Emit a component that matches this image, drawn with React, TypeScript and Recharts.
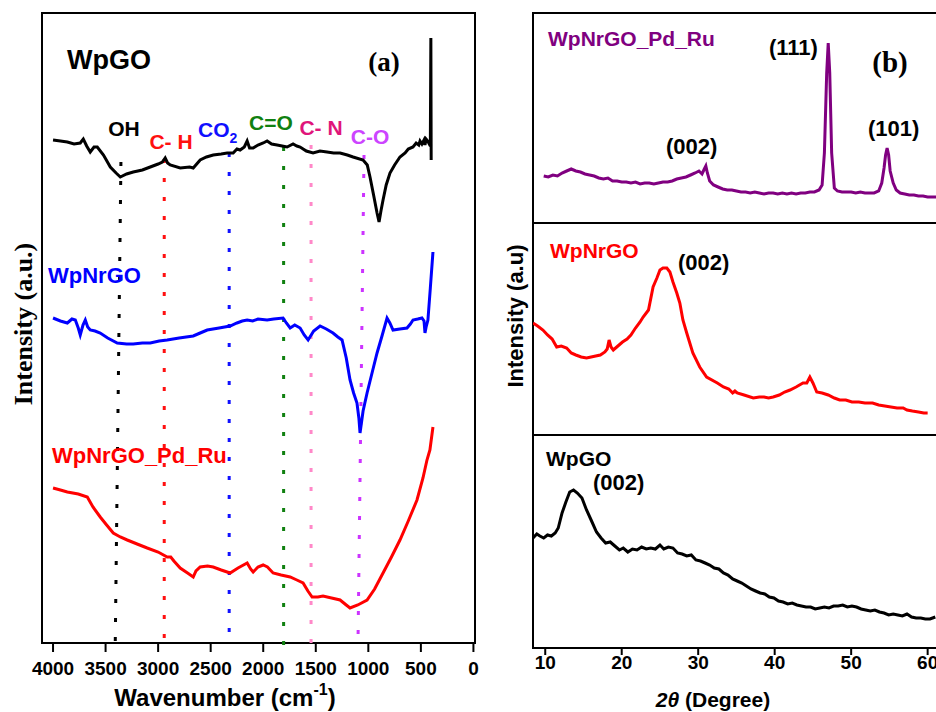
import React from 'react';
import { LineChart, Line, XAxis, YAxis, ReferenceArea, ReferenceLine } from 'recharts';

const SANS = '"Liberation Sans", Arial, sans-serif';
const SERIF = '"Liberation Serif", "Times New Roman", serif';

// ---- (a) FTIR ----
const ftirTicks = [0, 500, 1000, 1500, 2000, 2500, 3000, 3500, 4000];

const wpgoWave = [4000, 3930, 3864, 3800, 3741, 3712, 3680, 3646, 3610, 3579, 3520, 3455, 3400, 3360, 3300, 3237, 3150, 3075, 3000, 2960, 2933, 2910, 2885, 2790, 2700, 2666, 2600, 2540, 2476, 2400, 2343, 2286, 2250, 2220, 2180, 2153, 2130, 2096, 2050, 2000, 1963, 1920, 1868, 1820, 1773, 1716, 1680, 1649, 1590, 1526, 1460, 1393, 1330, 1269, 1200, 1145, 1050, 1010, 984, 950, 917, 898, 880, 860, 830, 794, 750, 699, 650, 620, 575, 545, 520, 508, 490, 470, 461, 450, 442, 425, 410, 405, 402];
const wpgoInt = [503, 502, 501, 499, 500, 504, 497, 491, 496, 496, 488, 476, 470, 466, 469, 471, 473, 476, 479, 481, 485, 480, 478, 475, 476, 475, 483, 486, 488, 489, 490, 490, 494, 493, 496, 502, 495, 495, 498, 500, 502, 499, 498, 497, 496, 499, 497, 496, 492, 490, 492, 491, 490, 490, 488, 486, 483, 478, 466, 448, 430, 421, 432, 443, 458, 470, 478, 486, 490, 494, 496, 500, 498, 502, 499, 503, 498, 504, 503, 500, 497, 605, 483];

const wpnrgoWave = [4000, 3930, 3864, 3820, 3788, 3760, 3741, 3715, 3693, 3670, 3646, 3600, 3551, 3480, 3389, 3300, 3237, 3150, 3075, 2990, 2914, 2800, 2666, 2600, 2533, 2420, 2315, 2250, 2200, 2153, 2100, 2050, 1963, 1900, 1811, 1780, 1744, 1700, 1649, 1610, 1573, 1520, 1459, 1400, 1336, 1290, 1250, 1210, 1174, 1140, 1108, 1090, 1079, 1050, 1012, 960, 917, 870, 822, 795, 765, 700, 632, 600, 575, 530, 490, 470, 461, 450, 433, 410, 385];
const wpnrgoInt = [325, 322, 320, 324, 323, 315, 308, 318, 323, 316, 313, 312, 310, 305, 300, 299, 299, 300, 300, 302, 303, 305, 307, 310, 313, 315, 317, 320, 322, 323, 322, 324, 323, 324, 325, 320, 315, 318, 315, 308, 303, 312, 317, 314, 310, 306, 303, 285, 263, 250, 240, 225, 210, 232, 250, 272, 290, 307, 325, 320, 313, 314, 315, 319, 323, 324, 325, 322, 310, 316, 323, 355, 391];

const pdRuWave = [4000, 3930, 3864, 3760, 3674, 3620, 3551, 3490, 3427, 3360, 3294, 3200, 3104, 3000, 2914, 2880, 2850, 2790, 2720, 2666, 2640, 2600, 2530, 2476, 2400, 2315, 2240, 2153, 2120, 2096, 2050, 2001, 1960, 1906, 1830, 1744, 1680, 1621, 1575, 1535, 1480, 1431, 1350, 1269, 1210, 1174, 1100, 1012, 940, 860, 780, 699, 620, 537, 480, 442, 414, 385];
const pdRuInt = [155, 153, 151, 149, 146, 136, 126, 118, 110, 106, 103, 99, 95, 91, 86, 86, 82, 75, 70, 66, 72, 76, 77, 76, 73, 70, 75, 80, 74, 71, 76, 78, 76, 70, 68, 66, 63, 60, 52, 46, 46, 47, 45, 43, 38, 35, 38, 43, 54, 70, 86, 103, 122, 143, 165, 183, 193, 216];

// band markers: wavenumber at top / bottom of the dotted line, intensity extent
const bandWaveTop = [3354, 2942, 2324, 1806, 1545, 1041];
const bandWaveBottom = [3408, 2942, 2324, 1806, 1545, 1098];
const bandIntTop = [481, 484, 490, 496, 498, 488];
const bandIntBottom = [0, 0, 11, -4, -4, 3];
const bandColors = ['#000000', '#ff1010', '#1010ff', '#108010', '#ff88c8', '#cc33ff'];

// ---- (b) XRD ----
const xrdTicks = [10, 20, 30, 40, 50, 60];

const pdRuTheta = [9.8, 10.4, 11.0, 11.6, 12.2, 12.8, 13.4, 14.0, 14.6, 15.2, 15.8, 16.4, 17.0, 17.6, 18.2, 18.8, 19.4, 20.0, 20.6, 21.2, 21.8, 22.4, 23.0, 23.6, 24.2, 24.8, 25.4, 26.0, 26.6, 27.2, 27.8, 28.4, 29.0, 29.6, 30.1, 30.5, 30.8, 31.0, 31.2, 31.5, 32.0, 32.6, 33.2, 33.8, 34.4, 35.0, 35.6, 36.2, 36.8, 37.4, 38.0, 38.6, 39.2, 39.8, 40.4, 41.0, 41.6, 42.2, 42.8, 43.4, 44.0, 44.6, 45.2, 45.8, 46.2, 46.5, 46.8, 47.0, 47.2, 47.45, 47.8, 48.2, 48.8, 49.4, 50.0, 50.6, 51.2, 51.8, 52.4, 53.0, 53.6, 54.0, 54.3, 54.5, 54.7, 54.9, 55.1, 55.5, 55.9, 56.4, 57.0, 57.6, 58.2, 58.8, 59.4, 60.0, 60.6, 61.2, 62.0];
const pdRuCounts = [47, 46, 48, 47, 50, 52, 54, 52, 51, 49, 48, 47, 45, 44, 45, 42, 42, 41, 41, 40, 41, 39, 40, 40, 39, 40, 41, 41, 42, 44, 45, 46, 48, 50, 52, 49, 54, 57, 50, 42, 38, 36, 34, 33, 33, 32, 31, 31, 30, 31, 30, 29, 30, 30, 29, 30, 29, 30, 29, 30, 30, 31, 31, 33, 38, 70, 150, 180, 150, 70, 35, 32, 31, 31, 31, 30, 31, 30, 30, 30, 32, 40, 55, 68, 75, 68, 52, 40, 33, 30, 29, 28, 28, 27, 27, 26, 26, 26, 26];

const nrgoTheta = [8.4, 9.0, 9.7, 10.3, 10.9, 11.5, 12.1, 12.8, 13.4, 14.0, 14.7, 15.4, 16.0, 16.6, 17.2, 17.8, 18.1, 18.35, 18.6, 18.9, 19.5, 20.1, 20.7, 21.2, 21.8, 22.4, 22.8, 23.5, 24.1, 24.6, 25.0, 25.4, 25.9, 26.3, 26.7, 27.2, 27.6, 28.0, 28.5, 28.9, 29.3, 30.2, 31.1, 32.5, 33.3, 34.0, 34.5, 34.8, 35.1, 36.0, 37.2, 38.0, 38.6, 39.2, 39.8, 40.6, 41.3, 42.0, 42.8, 43.7, 44.2, 44.6, 45.0, 45.5, 46.2, 47.0, 47.8, 48.5, 49.3, 50.1, 51.0, 51.8, 52.8, 53.6, 54.4, 55.2, 56.0, 56.8, 57.3, 58.0, 58.8, 59.5, 60.0];
const nrgoCounts = [112, 109, 105, 100, 96, 88, 89, 87, 82, 80, 78, 77, 78, 79, 80, 83, 86, 95, 88, 85, 89, 93, 96, 100, 107, 113, 118, 125, 148, 157, 165, 167, 167, 163, 153, 142, 132, 115, 102, 92, 82, 68, 58, 52, 48, 46, 42, 44, 42, 40, 37, 38, 38, 37, 38, 40, 43, 45, 48, 52, 52, 58, 52, 43, 42, 40, 37, 35, 35, 33, 33, 32, 32, 30, 29, 28, 27, 27, 25, 24, 23, 22, 22];

const goTheta = [8.4, 8.9, 9.3, 9.8, 10.3, 10.8, 11.3, 11.7, 12.2, 12.7, 13.2, 13.7, 14.2, 14.8, 15.4, 16.0, 16.7, 17.3, 17.9, 18.5, 19.1, 19.7, 20.2, 20.8, 21.4, 22.0, 22.6, 23.2, 23.8, 24.4, 25.0, 25.5, 26.1, 26.7, 27.3, 27.9, 28.5, 29.1, 29.7, 30.3, 30.9, 31.5, 32.1, 32.7, 33.3, 33.9, 34.5, 35.1, 35.7, 36.3, 36.9, 37.5, 38.1, 38.7, 39.3, 39.9, 40.5, 41.1, 41.7, 42.3, 42.9, 43.5, 44.1, 44.7, 45.3, 45.9, 46.5, 47.1, 47.7, 48.3, 48.9, 49.5, 50.1, 50.7, 51.3, 51.9, 52.5, 53.1, 53.7, 54.3, 54.9, 55.5, 56.1, 56.7, 57.3, 57.9, 58.5, 59.1, 59.7, 60.3, 61.0];
const goCounts = [110, 114, 112, 110, 113, 112, 115, 120, 135, 146, 156, 158, 155, 150, 138, 128, 116, 110, 105, 106, 102, 98, 100, 96, 99, 98, 101, 99, 100, 99, 103, 99, 101, 100, 95, 94, 92, 93, 88, 87, 85, 83, 80, 79, 75, 73, 69, 67, 65, 62, 59, 57, 55, 54, 51, 50, 47, 46, 44, 45, 43, 42, 41, 41, 39, 40, 41, 40, 42, 42, 43, 41, 42, 41, 39, 38, 37, 38, 36, 35, 33, 34, 33, 32, 34, 31, 30, 30, 29, 29, 31];

const pairs = (xs: number[], ys: number[]) => xs.map((x, i) => ({ x, y: ys[i] }));

const XRD_DOMAIN: [number, number] = [8.4, 62.4];

interface XrdPanelProps {
  top: number;
  bottom: number;
  data: { x: number; y: number }[];
  color: string;
  labels: boolean;
}

const XrdPanel: React.FC<XrdPanelProps> = ({ top, bottom, data, color, labels }) => {
  const axisH = labels ? 64 : 17;
  const h = bottom - top;
  return (
    <div style={{ position: 'absolute', left: 490, top: 0 }}>
      <LineChart width={470} height={bottom + axisH} margin={{ top, right: 14, bottom: 0, left: 43 }}>
        <XAxis
          dataKey="x"
          type="number"
          domain={XRD_DOMAIN}
          ticks={xrdTicks}
          interval={0}
          allowDataOverflow
          axisLine={false}
          tickSize={7}
          tickMargin={1}
          tickLine={{ stroke: '#000', strokeWidth: 2 }}
          tick={labels ? { fill: '#000', fontSize: 19, fontWeight: 700, fontFamily: SANS } : false}
          height={axisH}
        />
        <YAxis type="number" domain={[0, h]} hide />
        <ReferenceArea x1={XRD_DOMAIN[0]} x2={XRD_DOMAIN[1]} y1={0} y2={h} fill="none" stroke="#000" strokeWidth={2} ifOverflow="visible" />
        <Line data={data} dataKey="y" type="linear" stroke={color} strokeWidth={3} dot={false} isAnimationActive={false} />
      </LineChart>
    </div>
  );
};

const lbl = { fontFamily: SANS, fontWeight: 700 } as const;

export default function App() {
  return (
    <div style={{ position: 'absolute', left: 0, top: 0, width: 936, height: 712, overflow: 'hidden', background: '#fff' }}>
      <div style={{ position: 'absolute', left: 0, top: 0 }}>
        <LineChart width={480} height={712} margin={{ top: 13, right: 5, bottom: 0, left: 42 }}>
          <XAxis
            dataKey="x"
            type="number"
            domain={[-15, 4105]}
            reversed
            ticks={ftirTicks}
            interval={0}
            allowDataOverflow
            axisLine={false}
            tickSize={9}
            tickMargin={10}
            tickLine={{ stroke: '#000', strokeWidth: 2 }}
            tick={{ fill: '#000', fontSize: 19, fontWeight: 700, fontFamily: SANS }}
            height={69}
          />
          <YAxis type="number" domain={[0, 630]} hide />
          <ReferenceArea x1={-15} x2={4105} y1={0} y2={630} fill="none" stroke="#000" strokeWidth={2} ifOverflow="visible" />
          {bandColors.map((c, i) => (
            <ReferenceLine
              key={i}
              segment={[
                { x: bandWaveTop[i], y: bandIntTop[i] },
                { x: bandWaveBottom[i], y: bandIntBottom[i] },
              ]}
              stroke={c}
              strokeWidth={3}
              strokeDasharray="4 15"
              ifOverflow="visible"
            />
          ))}
          <Line data={pairs(wpgoWave, wpgoInt)} dataKey="y" type="linear" stroke="#000" strokeWidth={3} dot={false} isAnimationActive={false} />
          <Line data={pairs(wpnrgoWave, wpnrgoInt)} dataKey="y" type="linear" stroke="#0000ff" strokeWidth={3} dot={false} isAnimationActive={false} />
          <Line data={pairs(pdRuWave, pdRuInt)} dataKey="y" type="linear" stroke="#ff0000" strokeWidth={3} dot={false} isAnimationActive={false} />
        </LineChart>
      </div>

      <XrdPanel top={13} bottom={223} data={pairs(pdRuTheta, pdRuCounts)} color="#800080" labels={false} />
      <XrdPanel top={223} bottom={435} data={pairs(nrgoTheta, nrgoCounts)} color="#ff0000" labels={false} />
      <XrdPanel top={435} bottom={648} data={pairs(goTheta, goCounts)} color="#000000" labels />

      <svg width={936} height={712} style={{ position: 'absolute', left: 0, top: 0, pointerEvents: 'none' }}>
        {/* panel (a) */}
        <text x={67} y={69} fontSize={27} fill="#000" {...lbl}>WpGO</text>
        <text x={384} y={71} fontSize={27} fill="#000" fontFamily={SERIF} fontWeight={700} textAnchor="middle">(a)</text>
        <text x={124} y={136} fontSize={21} fill="#000" {...lbl} textAnchor="middle">OH</text>
        <text x={171} y={149} fontSize={21} fill="#ff1010" {...lbl} textAnchor="middle">C- H</text>
        <text x={198} y={137} fontSize={21} fill="#1010ff" {...lbl}>CO<tspan fontSize={14} dy={6}>2</tspan></text>
        <text x={271} y={130} fontSize={21} fill="#108010" {...lbl} textAnchor="middle">C=O</text>
        <text x={321} y={135} fontSize={21} fill="#e0157a" {...lbl} textAnchor="middle">C- N</text>
        <text x={370} y={144} fontSize={21} fill="#cc44ff" {...lbl} textAnchor="middle">C-O</text>
        <text x={48} y={283} fontSize={22} fill="#0000ff" {...lbl}>WpNrGO</text>
        <text x={52} y={463} fontSize={22} fill="#ff0000" {...lbl}>WpNrGO_Pd_Ru</text>
        <text x={225} y={706} fontSize={24} fill="#000" {...lbl} textAnchor="middle">
          Wavenumber (cm<tspan fontSize={16} dy={-11}>-1</tspan><tspan dy={11}>)</tspan>
        </text>
        <text x={23} y={324} fontSize={26} fill="#000" fontFamily={SERIF} fontWeight={700} textAnchor="middle" dominantBaseline="central" transform="rotate(-90 23 324)">Intensity (a.u.)</text>

        {/* panel (b) */}
        <text x={548} y={46} fontSize={21} fill="#800080" {...lbl}>WpNrGO_Pd_Ru</text>
        <text x={769} y={55} fontSize={22} fill="#000" {...lbl}>(111)</text>
        <text x={890} y={72} fontSize={29} fill="#000" fontFamily={SERIF} fontWeight={700} textAnchor="middle">(b)</text>
        <text x={868} y={136} fontSize={22} fill="#000" {...lbl}>(101)</text>
        <text x={666} y={154} fontSize={22} fill="#000" {...lbl}>(002)</text>
        <text x={550} y={258} fontSize={21} fill="#ff0000" {...lbl}>WpNrGO</text>
        <text x={678} y={270} fontSize={22} fill="#000" {...lbl}>(002)</text>
        <text x={546} y={466} fontSize={21} fill="#000" {...lbl}>WpGO</text>
        <text x={593} y={490} fontSize={22} fill="#000" {...lbl}>(002)</text>
        <text x={515} y={316} fontSize={22} fill="#000" {...lbl} textAnchor="middle" dominantBaseline="central" transform="rotate(-90 515 316)">Intensity (a.u)</text>
        <text x={713} y={707} fontSize={21} fill="#000" {...lbl} textAnchor="middle">
          <tspan fontStyle="italic">2θ</tspan> (Degree)
        </text>
      </svg>
    </div>
  );
}
